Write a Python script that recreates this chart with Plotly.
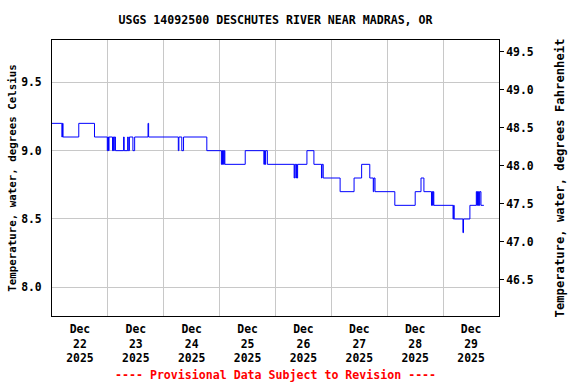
import plotly.graph_objects as go
import pandas as pd

# ---- data (change points of a 15-minute step series) ----
times = [
    "2025-12-22 00:00", "2025-12-22 04:15", "2025-12-22 04:30", "2025-12-22 04:45",
    "2025-12-22 11:30", "2025-12-22 18:15", "2025-12-22 23:45", "2025-12-23 00:00",
    "2025-12-23 00:15", "2025-12-23 00:30", "2025-12-23 02:00", "2025-12-23 02:15",
    "2025-12-23 02:30", "2025-12-23 02:45", "2025-12-23 03:15", "2025-12-23 06:45",
    "2025-12-23 07:00", "2025-12-23 08:30", "2025-12-23 08:45", "2025-12-23 09:15",
    "2025-12-23 10:45", "2025-12-23 11:30", "2025-12-23 17:15", "2025-12-23 17:30",
    "2025-12-24 06:15", "2025-12-24 06:30", "2025-12-24 07:45", "2025-12-24 08:30",
    "2025-12-24 18:30", "2025-12-25 00:45", "2025-12-25 01:00", "2025-12-25 01:15",
    "2025-12-25 01:30", "2025-12-25 01:45", "2025-12-25 02:00", "2025-12-25 02:15",
    "2025-12-25 11:00", "2025-12-25 19:00", "2025-12-25 19:15", "2025-12-25 19:30",
    "2025-12-25 19:45", "2025-12-25 20:30", "2025-12-26 08:00", "2025-12-26 08:15",
    "2025-12-26 08:45", "2025-12-26 09:00", "2025-12-26 09:15", "2025-12-26 09:30",
    "2025-12-26 13:30", "2025-12-26 16:30", "2025-12-26 19:45", "2025-12-26 20:00",
    "2025-12-26 20:30", "2025-12-27 03:45", "2025-12-27 09:45", "2025-12-27 13:00",
    "2025-12-27 16:30", "2025-12-27 18:00", "2025-12-27 18:15", "2025-12-27 18:45",
    "2025-12-28 03:15", "2025-12-28 12:00", "2025-12-28 14:30", "2025-12-28 15:45",
    "2025-12-28 19:00", "2025-12-28 19:15", "2025-12-28 19:30", "2025-12-28 19:45",
    "2025-12-28 20:00", "2025-12-29 04:15", "2025-12-29 04:30", "2025-12-29 04:45",
    "2025-12-29 08:30", "2025-12-29 08:45", "2025-12-29 11:30", "2025-12-29 14:15",
    "2025-12-29 14:30", "2025-12-29 14:45", "2025-12-29 15:00", "2025-12-29 15:15",
    "2025-12-29 15:30", "2025-12-29 15:45", "2025-12-29 16:15", "2025-12-29 17:30",
]
temps_c = [
    9.2, 9.1, 9.2, 9.1,
    9.2, 9.1, 9.0, 9.1,
    9.0, 9.1, 9.0, 9.1,
    9.0, 9.1, 9.0, 9.1,
    9.0, 9.1, 9.0, 9.1,
    9.0, 9.1, 9.2, 9.1,
    9.0, 9.1, 9.0, 9.1,
    9.0, 8.9, 9.0, 8.9,
    9.0, 8.9, 9.0, 8.9,
    9.0, 8.9, 9.0, 8.9,
    9.0, 8.9, 8.8, 8.9,
    8.8, 8.9, 8.8, 8.9,
    9.0, 8.9, 8.8, 8.9,
    8.8, 8.7, 8.8, 8.9,
    8.8, 8.7, 8.8, 8.7,
    8.6, 8.7, 8.8, 8.7,
    8.6, 8.7, 8.6, 8.7,
    8.6, 8.5, 8.6, 8.5,
    8.4, 8.5, 8.6, 8.7,
    8.6, 8.7, 8.6, 8.7,
    8.6, 8.7, 8.6, 8.6,
]

x_start = "2025-12-22 00:00"
x_end = "2025-12-30 00:00"
day_labels = ["22", "23", "24", "25", "26", "27", "28", "29"]
c_ticks = [8.0, 8.5, 9.0, 9.5]
f_ticks = [46.5, 47.0, 47.5, 48.0, 48.5, 49.0, 49.5]
c_range = [7.79, 9.81]

title = "USGS 14092500 DESCHUTES RIVER NEAR MADRAS, OR"
left_title = "Temperature, water, degrees Celsius"
right_title = "Temperature, water, degrees Fahrenheit"
footer = "---- Provisional Data Subject to Revision ----"

# ---- build figure ----
t = pd.to_datetime(times)
temps_f = [c * 1.8 + 32 for c in temps_c]
f_range = [c * 1.8 + 32 for c in c_range]

days = pd.date_range(x_start, x_end, freq="D")
noon = [d + pd.Timedelta(hours=12) for d in days[:-1]]
ticktext = [f"Dec<br>{d}<br>2025" for d in day_labels]

FONT = "DejaVu Sans Mono"
GRID = "#c8c8c8"

fig = go.Figure()
fig.add_trace(go.Scatter(x=t, y=temps_c, mode="lines", line=dict(color="#0000ff", width=1, shape="hv"),
                         hoverinfo="skip", showlegend=False))
fig.add_trace(go.Scatter(x=t, y=temps_f, mode="lines", line=dict(color="rgba(0,0,0,0)", width=1, shape="hv"),
                         yaxis="y2", hoverinfo="skip", showlegend=False))

fig.update_layout(
    width=576, height=384, autosize=False,
    margin=dict(l=52, r=77, t=40, b=68, autoexpand=False),
    paper_bgcolor="white", plot_bgcolor="white",
    font=dict(family=FONT, size=11, color="black", weight="bold"),
    title=dict(text=title, x=0.5, xref="paper", y=1 - 20 / 384, yanchor="middle",
               font=dict(family=FONT, size=11.6, color="black", weight="bold")),
    xaxis=dict(
        range=[x_start, x_end], tickmode="array", tickvals=noon, ticktext=ticktext,
        ticks="", showgrid=False, showline=True, linecolor="black", linewidth=1, mirror=True,
        zeroline=False, tickfont=dict(size=11.4), automargin=False, ticklabelstandoff=2,
        minor=dict(tickmode="array", tickvals=list(days), showgrid=True, gridcolor=GRID, gridwidth=1, ticks=""),
    ),
    yaxis=dict(
        range=c_range, tickmode="array", tickvals=c_ticks, ticktext=[f"{v:.1f}" for v in c_ticks],
        ticks="", showgrid=True, gridcolor=GRID, gridwidth=1, showline=True, linecolor="black",
        linewidth=1, mirror=True, zeroline=False, tickfont=dict(size=11.4), automargin=False,
        ticklabelstandoff=7,
        title=dict(text=left_title, font=dict(size=10.8), standoff=2),
    ),
    yaxis2=dict(
        range=f_range, overlaying="y", side="right", tickmode="array", tickvals=f_ticks,
        ticktext=[f"{v:.1f}" for v in f_ticks], ticks="outside", ticklen=4, tickcolor="black",
        showgrid=False, showline=True, linecolor="black", linewidth=1, zeroline=False,
        tickfont=dict(size=11.4), automargin=False,
        title=dict(text=right_title, font=dict(size=12.2), standoff=22),
    ),
    annotations=[dict(text=footer, xref="paper", yref="paper", x=0.5, y=(316 - 375) / 276,
                      xanchor="center", yanchor="middle", showarrow=False,
                      font=dict(family=FONT, size=11.6, color="#ff0000", weight="bold"))],
)

fig.write_html(
    "out.html",
    config={"responsive": False, "displayModeBar": False},
    post_script="document.body.style.margin='0';document.body.style.overflow='hidden';",
)
